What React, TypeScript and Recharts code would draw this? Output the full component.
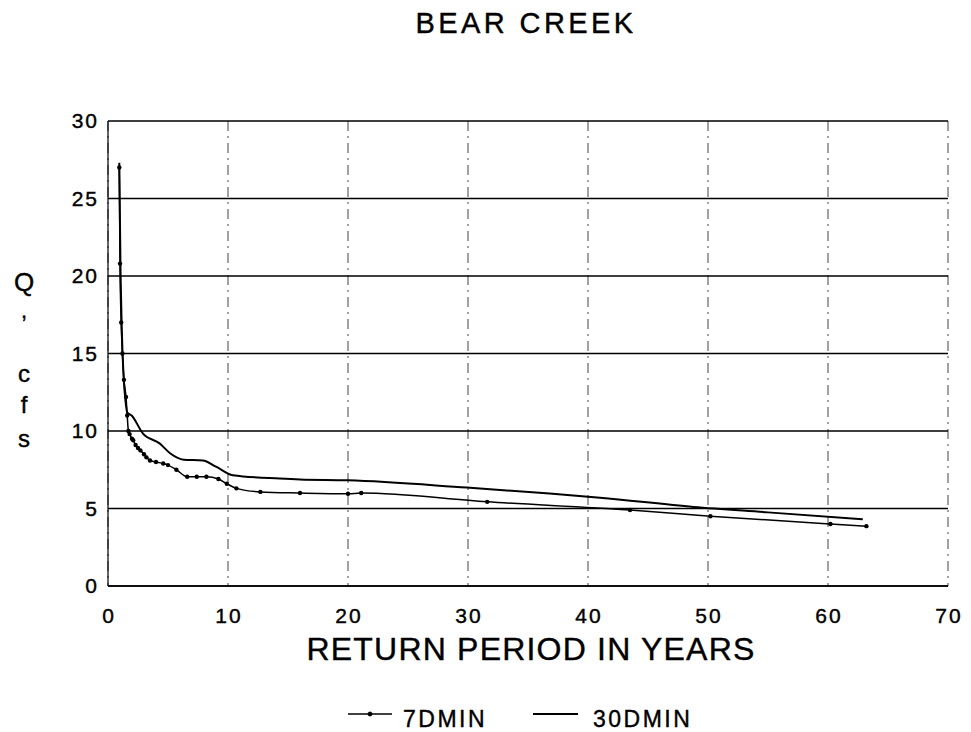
import { LineChart, Line, XAxis, YAxis, CartesianGrid } from 'recharts'

// return period (years) vs minimum flow (cfs)
const xTicks = [0, 10, 20, 30, 40, 50, 60, 70]
const yTicks = [0, 5, 10, 15, 20, 25, 30]

const min7Years = [
  0.94, 1.0, 1.1, 1.2, 1.33, 1.5, 1.6, 1.7, 1.8, 2.0, 2.1, 2.3, 2.5, 2.7, 3.0, 3.2, 3.5, 4.0,
  4.6, 5.0, 5.7, 6.6, 7.4, 8.2, 9.2, 9.9, 10.7, 12.7, 16, 20, 21.1, 31.6, 43.5, 50.2, 60.2, 63.2,
]
const min7Flow = [
  27.0, 20.8, 17.0, 15.0, 13.3, 12.2, 11.0, 10.0, 9.8, 9.5, 9.4, 9.1, 8.9, 8.75, 8.5, 8.3, 8.1, 8.0,
  7.9, 7.8, 7.5, 7.05, 7.05, 7.05, 6.9, 6.6, 6.3, 6.07, 6.0, 5.95, 6.0, 5.43, 4.9, 4.5, 4.0, 3.86,
]

const min30Years = [
  0.94, 1.05, 1.15, 1.3, 1.45, 1.6, 1.97, 2.9, 4.3, 5.2, 6.3, 7.9, 9.0, 10.4, 14.3, 16, 20, 29.9,
  36.8, 41, 48.8, 55, 62.9,
]
const min30Flow = [
  27.3, 20.0, 16.5, 13.5, 12.0, 11.2, 11.0, 9.85, 9.2, 8.55, 8.15, 8.1, 7.7, 7.15, 6.93, 6.87, 6.82,
  6.35, 5.97, 5.7, 5.1, 4.75, 4.3,
]

const min7 = min7Years.map((x, i) => ({ x, y: min7Flow[i] }))
const min30 = min30Years.map((x, i) => ({ x, y: min30Flow[i] }))

const FONT = '"Liberation Sans", Arial, Helvetica, sans-serif'

const XTick = ({ x, payload }: any) => (
  <text x={x + 1} y={623} textAnchor="middle" fontSize={21} letterSpacing={2} fill="#000" stroke="#000" strokeWidth={0.4} fontFamily={FONT}>
    {payload.value}
  </text>
)

const YTick = ({ y, payload }: any) => (
  <text x={99} y={y + 7} textAnchor="end" fontSize={21} letterSpacing={2} fill="#000" stroke="#000" strokeWidth={0.4} fontFamily={FONT}>
    {payload.value}
  </text>
)

export default function App() {
  return (
    <div style={{ position: 'absolute', left: 0, top: 0, width: 971, height: 732, background: '#fff', fontFamily: FONT }}>
      <LineChart width={971} height={732} margin={{ top: 121, right: 23, bottom: 116, left: 0 }}>
        <CartesianGrid horizontal={false} stroke="#444" strokeWidth={1} strokeDasharray="10 5 2 5" />
        <CartesianGrid vertical={false} stroke="#000" strokeWidth={1.5} />
        <XAxis
          type="number"
          dataKey="x"
          domain={[0, 70]}
          ticks={xTicks}
          height={30}
          tick={<XTick />}
          tickLine={false}
          axisLine={{ stroke: '#000', strokeWidth: 1.5 }}
        />
        <YAxis
          type="number"
          dataKey="y"
          domain={[0, 30]}
          ticks={yTicks}
          width={108}
          tick={<YTick />}
          tickLine={false}
          axisLine={{ stroke: '#000', strokeWidth: 1.2 }}
        />
        <Line
          data={min30}
          dataKey="y"
          name="30DMIN"
          type="monotone"
          stroke="#000"
          strokeWidth={2}
          dot={false}
          isAnimationActive={false}
        />
        <Line
          data={min7}
          dataKey="y"
          name="7DMIN"
          type="monotone"
          stroke="#000"
          strokeWidth={1.5}
          dot={{ r: 2.2, fill: '#000', stroke: 'none' }}
          isAnimationActive={false}
        />
      </LineChart>
      <svg width={971} height={732} style={{ position: 'absolute', left: 0, top: 0, pointerEvents: 'none' }} fontFamily={FONT} stroke="#000" strokeWidth={0.4}>
        <text x={526} y={33} textAnchor="middle" fontSize={29} letterSpacing={3.4}>BEAR CREEK</text>
        <text x={531} y={660} textAnchor="middle" fontSize={32} letterSpacing={1.2}>RETURN PERIOD IN YEARS</text>
        <text x={24} y={291} textAnchor="middle" fontSize={26}>Q</text>
        <text x={24} y={318} textAnchor="middle" fontSize={22}>,</text>
        <g fontSize={24} textAnchor="middle">
          <text x={24} y={382}>c</text>
          <text x={24} y={413}>f</text>
          <text x={24} y={447}>s</text>
        </g>
        <g fontSize={23} letterSpacing={2.5}>
          <line x1={348} y1={714} x2={392} y2={714} stroke="#000" strokeWidth={1.5} />
          <circle cx={370} cy={714} r={2.2} fill="#000" />
          <text x={403} y={727}>7DMIN</text>
          <line x1={533} y1={714} x2={578} y2={714} stroke="#000" strokeWidth={1.8} />
          <text x={593} y={727}>30DMIN</text>
        </g>
      </svg>
    </div>
  )
}
